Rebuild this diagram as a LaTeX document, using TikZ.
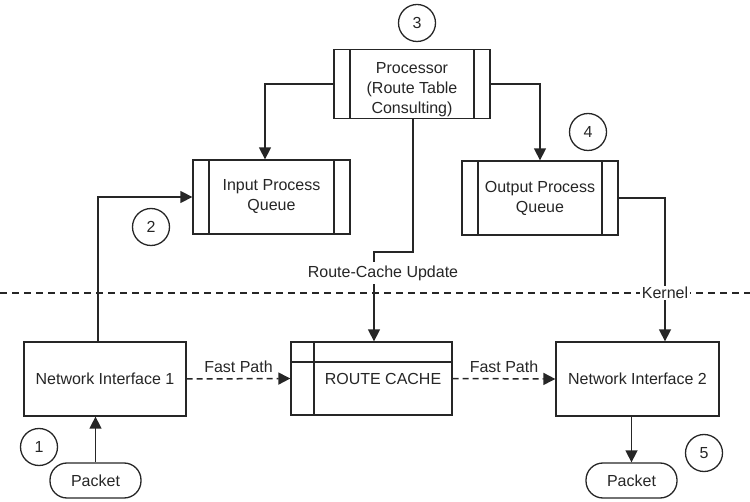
\documentclass[tikz,border=0pt]{standalone}
\usepackage{fontspec}
\setmainfont{Liberation Sans}
\usepackage{xcolor}
\usepackage{tikz}
\usetikzlibrary{arrows.meta,positioning,calc}

\begin{document}
\begin{tikzpicture}[
    x=1pt, y=1pt,
    font=\fontsize{16}{20}\selectfont,
    color=black!85,
    >={Triangle[length=12pt,width=12pt]},
    conn/.style={line width=1.5pt, ->},
    fastpath/.style={line width=1.5pt, ->, dash pattern=on 6pt off 4pt},
    plainbox/.style={rectangle, draw, line width=1.3pt, fill=white,
                     minimum width=162pt, minimum height=74pt,
                     align=center, inner sep=2pt},
    procbox/.style={plainbox, minimum width=156pt,
                    path picture={
                      \draw[line width=1.3pt]
                        ([xshift=16pt]path picture bounding box.north west) --
                        ([xshift=16pt]path picture bounding box.south west)
                        ([xshift=-16pt]path picture bounding box.north east) --
                        ([xshift=-16pt]path picture bounding box.south east);}},
    cachebox/.style={plainbox, minimum width=161pt, minimum height=73pt,
                     path picture={
                       \draw[line width=1.3pt]
                         ([xshift=23pt]path picture bounding box.north west) --
                         ([xshift=23pt]path picture bounding box.south west)
                         ([yshift=-20pt]path picture bounding box.north west) --
                         ([yshift=-20pt]path picture bounding box.north east);}},
    packet/.style={rectangle, draw, line width=1.3pt, rounded corners=17pt,
                   minimum width=91pt, minimum height=35pt, inner sep=2pt},
    stepno/.style={circle, draw, line width=1.3pt, minimum size=37pt, inner sep=0pt},
    linelabel/.style={fill=white, inner sep=4pt},
  ]
  \useasboundingbox (0,0) rectangle (750,501);

  % Kernel side
  \node[procbox, minimum height=68pt] (proc) at (412, 417) {\mbox{}\\[2pt]Processor\\(Route Table\\Consulting)};
  \node[procbox, minimum width=157pt] (inq) at (271.5, 304) {Input Process\\Queue};
  \node[procbox] (outq) at (540, 303) {Output Process\\Queue};

  % Interface side
  \node[plainbox] (ni1) at (105, 122) {Network Interface 1};
  \node[cachebox] (cache) at (371.5, 122.5) {\hspace*{23pt}ROUTE CACHE};
  \node[plainbox, minimum width=163pt] (ni2) at (637.5, 122) {Network Interface 2};
  \node[packet] (pkt1) at (95.5, 20.5) {Packet};
  \node[packet] (pkt2) at (631.5, 20.5) {Packet};

  % Step numbers
  \node[stepno] (s1) at (39, 54) {1};
  \node[stepno] (s2) at (151, 274) {2};
  \node[stepno] (s3) at (417, 478) {3};
  \node[stepno] (s4) at (588, 369) {4};
  \node[stepno] (s5) at (704, 48) {5};

  % Kernel boundary
  \coordinate (sepL) at (0, 208);
  \coordinate (sepR) at (750, 208);
  \draw[line width=1.3pt, dash pattern=on 7pt off 5pt] (sepL) -- (sepR);

  % Connectors
  \coordinate (rcbend) at (374, 249);
  \draw[conn] (pkt1.north) -- (pkt1.north |- ni1.south);
  \draw[conn] ([xshift=-7pt]ni1.north) |- (inq.west);
  \draw[conn] (proc.west) -| ([xshift=-6.5pt]inq.north);
  \draw[conn] (proc.east) -| (outq.north);
  \draw[conn] ([xshift=1pt]proc.south) |- (rcbend) -- (rcbend |- cache.north);
  \draw[conn] (outq.east) -| ([xshift=27.5pt]ni2.north);
  \draw[conn] (ni2.south -| pkt2.north) -- (pkt2.north);
  \draw[fastpath] (ni1.east) -- node[above=4pt, inner sep=1pt] (fp1) {Fast Path} (cache.west);
  \draw[fastpath] (cache.east) -- node[above=4pt, inner sep=1pt] (fp2) {Fast Path} (ni2.west);

  % Labels on lines
  \node[linelabel] (rcup) at (383, 228) {Route-Cache Update};
  \node[linelabel, inner ysep=1.5pt, inner xsep=2pt] (kern) at (665, 208) {Kernel};
\end{tikzpicture}
\end{document}
